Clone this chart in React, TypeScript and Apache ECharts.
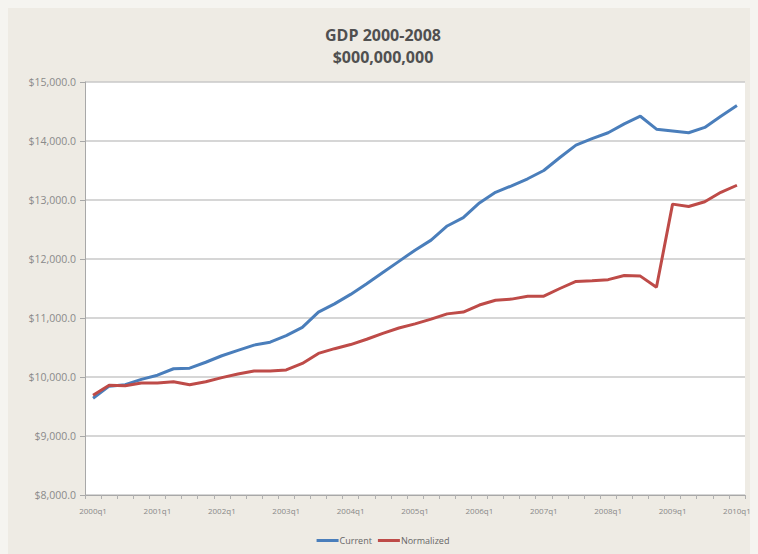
import React, { useEffect, useRef } from "react";
import * as echarts from "echarts";

const quarters: string[] = [];
for (let y = 2000; y <= 2010; y++) {
  for (let q = 1; q <= 4; q++) {
    if (y === 2010 && q > 1) break;
    quarters.push(`${y}q${q}`);
  }
}

const currentGdp = [
  9640, 9845, 9870, 9960, 10030, 10140, 10150, 10250, 10360, 10450, 10540, 10590,
  10700, 10840, 11100, 11240, 11400, 11580, 11770, 11960, 12150, 12320, 12560, 12700,
  12950, 13130, 13240, 13360, 13500, 13720, 13930, 14040, 14140, 14290, 14420, 14200,
  14170, 14140, 14230, 14420, 14600,
];

const normalizedGdp = [
  9690, 9860, 9850, 9900, 9900, 9920, 9870, 9920, 9990, 10050, 10100, 10100,
  10120, 10230, 10400, 10480, 10550, 10640, 10740, 10830, 10900, 10980, 11070, 11100,
  11220, 11300, 11320, 11370, 11370, 11500, 11620, 11630, 11650, 11720, 11710, 11520,
  12930, 12890, 12970, 13130, 13250,
];

const seriesNames = ["Current", "Normalized"];
const titleLines = ["GDP 2000-2008", "$000,000,000"];

export default function App() {
  const ref = useRef<HTMLDivElement>(null);
  useEffect(() => {
    document.body.style.background = "#f5f4f0";
    const chart = echarts.init(ref.current!, null, { renderer: "svg" });
    const font = "'Open Sans', 'Noto Sans', sans-serif";
    chart.setOption({
      animation: false,
      backgroundColor: "#eeebe4",
      title: {
        text: titleLines.join("\n"),
        left: "center",
        top: 11,
        textStyle: {
          fontFamily: font,
          fontSize: 16,
          fontWeight: "bold",
          color: "#505050",
          lineHeight: 22,
        },
      },
      legend: {
        bottom: 4,
        left: "center",
        data: seriesNames,
        icon: "rect",
        itemWidth: 22,
        itemHeight: 3,
        itemGap: 6,
        textStyle: { fontFamily: font, fontSize: 9, color: "#666", padding: [0, 0, 0, -4] },
      },
      grid: {
        left: 77,
        right: 13,
        top: 74,
        bottom: 59,
        show: true,
        backgroundColor: "#ffffff",
        borderWidth: 0,
      },
      xAxis: {
        type: "category",
        data: quarters,
        boundaryGap: true,
        axisLine: { lineStyle: { color: "#a8a8a8", width: 1 } },
        axisTick: { show: true, interval: 0, length: 4, lineStyle: { color: "#b0b0b0" } },
        axisLabel: {
          interval: 3,
          fontFamily: font,
          fontSize: 8,
          color: "#888",
          margin: 11,
        },
        splitLine: { show: false },
      },
      yAxis: {
        type: "value",
        min: 8000,
        max: 15000,
        interval: 1000,
        axisLine: { show: true, lineStyle: { color: "#a8a8a8", width: 1 } },
        axisTick: { show: true, length: 5, lineStyle: { color: "#a8a8a8" } },
        axisLabel: {
          fontFamily: font,
          fontSize: 10.5,
          color: "#8a8a8a",
          margin: 9,
          formatter: (v: number) =>
            "$" + v.toLocaleString("en-US", { minimumFractionDigits: 1, maximumFractionDigits: 1 }),
        },
        splitLine: { lineStyle: { color: "#c8c8c8", width: 1.5 } },
      },
      series: [
        {
          name: seriesNames[0],
          type: "line",
          data: currentGdp,
          symbol: "none",
          lineStyle: { color: "#4a7ebb", width: 3 },
          itemStyle: { color: "#4a7ebb" },
        },
        {
          name: seriesNames[1],
          type: "line",
          data: normalizedGdp,
          symbol: "none",
          lineStyle: { color: "#be4b48", width: 3 },
          itemStyle: { color: "#be4b48" },
        },
      ],
    });
    return () => chart.dispose();
  }, []);
  return <div ref={ref} style={{ width: 750, height: 546 }} />;
}
